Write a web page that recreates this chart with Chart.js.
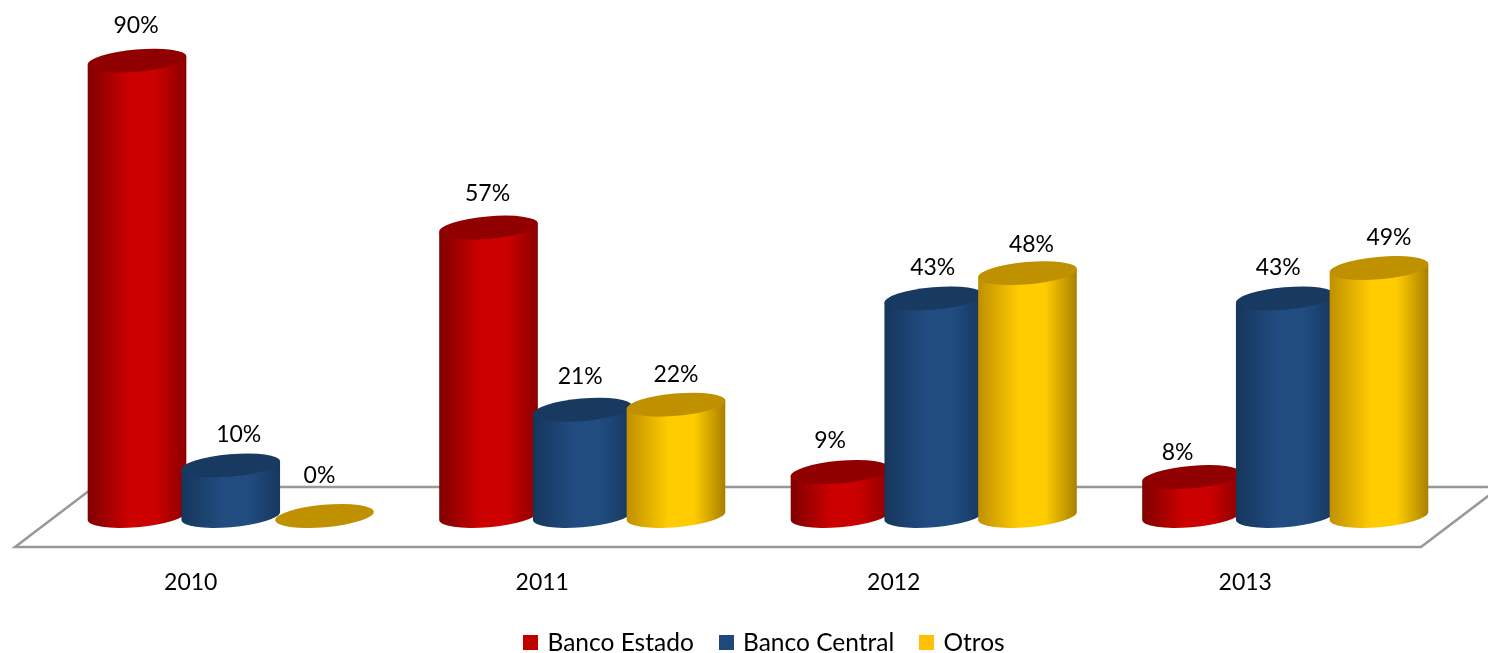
<!DOCTYPE html>
<html>
<head>
<meta charset="utf-8">
<style>html,body{margin:0;padding:0;background:#fff}#wrap{width:1488px;height:653px}</style>
<script src="https://cdn.jsdelivr.net/npm/chart.js@4/dist/chart.umd.js"></script>
</head>
<body>
<div id="wrap"><canvas id="c" width="1488" height="653"></canvas></div>
<script>
const categories = ["2010", "2011", "2012", "2013"];
const seriesNames = ["Banco Estado", "Banco Central", "Otros"];
const bancoEstado = [90, 57, 8.7, 7.7];
const bancoCentral = [10, 21, 43, 43];
const otros = [0, 22, 48, 49];

const FONT = 'Lato, "Open Sans", sans-serif';
const palette = [
  {base:"#C00000", edge:"#800000", mid:"#CC0000", right:"#8C0000", top:"#900000"},
  {base:"#1F497D", edge:"#16365C", mid:"#214C80", right:"#17375E", top:"#183A60"},
  {base:"#FFC000", edge:"#BF9000", mid:"#FFCC00", right:"#A98000", top:"#BF9000"}
];
// hand placement of the value labels in the original: [dx, dy] from the top of each cylinder
const labelNudge = [
  [[-1,-35],[8,-31],[-5,-40]],
  [[-1,-34],[-2,-33],[0,-30]],
  [[-10,-31],[-1,-31],[4,-29]],
  [[-14,-24],[-7,-31],[10,-30]]
];

function swatch(color){
  const s = document.createElement("canvas");
  s.width = 15; s.height = 15;
  const g = s.getContext("2d");
  g.fillStyle = color; g.fillRect(0,0,15,15);
  return s;
}

const TILT = -5 * Math.PI / 180;
function cylinder(ctx, cx, yTop, yBase, a, b, p){
  const t0 = Math.atan(-(b/a) * Math.tan(TILT));
  const ex = a*Math.cos(t0)*Math.cos(TILT) - b*Math.sin(t0)*Math.sin(TILT);
  const ey = a*Math.cos(t0)*Math.sin(TILT) + b*Math.sin(t0)*Math.cos(TILT);
  if (yBase - yTop > 0.5){
    const g = ctx.createLinearGradient(cx-ex,0,cx+ex,0);
    g.addColorStop(0, p.edge);
    g.addColorStop(0.42, p.mid);
    g.addColorStop(0.68, p.mid);
    g.addColorStop(1, p.right);
    ctx.beginPath();
    ctx.moveTo(cx+ex, yTop+ey);
    ctx.lineTo(cx+ex, yBase+ey);
    ctx.ellipse(cx, yBase, a, b, TILT, t0, t0+Math.PI, false);
    ctx.lineTo(cx-ex, yTop-ey);
    ctx.closePath();
    ctx.fillStyle = g;
    ctx.fill();
  }
  ctx.beginPath();
  ctx.ellipse(cx, yTop, a, b, TILT, 0, Math.PI*2);
  ctx.fillStyle = p.top;
  ctx.fill();
}

const floorDepth = {shiftBack: 79, rise: 60, front: 31, left: 40, right: 40};
const cylinderPlugin = {
  id: "cylinders",
  afterLayout(chart){
    chart.legend.left += 7.5; chart.legend.right += 7.5;
    chart.legend.top -= 1; chart.legend.bottom -= 1;
  },
  beforeDatasetsDraw(chart){
    const {ctx, chartArea:ca} = chart;
    const y0 = chart.scales.y.getPixelForValue(0);
    const fx0 = ca.left - floorDepth.left, fx1 = ca.right - floorDepth.right;
    const fy = y0 + floorDepth.front, by = fy - floorDepth.rise;
    ctx.save();
    ctx.strokeStyle = "#989898";
    ctx.lineWidth = 2.5;
    ctx.lineJoin = "miter";
    ctx.beginPath();
    ctx.moveTo(fx0, fy);
    ctx.lineTo(fx1, fy);
    ctx.lineTo(fx1 + floorDepth.shiftBack, by);
    ctx.lineTo(fx0 + floorDepth.shiftBack, by);
    ctx.closePath();
    ctx.stroke();
    ctx.restore();
  },
  beforeDatasetDraw(){ return false; },
  afterDatasetsDraw(chart){
    const {ctx} = chart;
    const metas = chart.data.datasets.map((d,i)=>chart.getDatasetMeta(i));
    metas.forEach((m,i)=>{
      m.data.forEach(bar=>{
        const a = bar.width*0.528;
        cylinder(ctx, bar.x, bar.y, bar.base, a, 11.2, palette[i]);
      });
    });
    ctx.save();
    ctx.font = "23px " + FONT;
    ctx.fillStyle = "#000";
    ctx.textAlign = "center";
    ctx.textBaseline = "middle";
    metas.forEach((m,i)=>{
      m.data.forEach((bar,j)=>{
        const v = chart.data.datasets[i].data[j];
        const n = labelNudge[j][i];
        ctx.fillText(Math.round(v)+"%", bar.x+n[0], bar.y+n[1]);
      });
    });
    ctx.restore();
  }
};

new Chart(document.getElementById("c"), {
  type: "bar",
  data: {
    labels: categories,
    datasets: [
      {label: seriesNames[0], data: bancoEstado, backgroundColor: palette[0].base},
      {label: seriesNames[1], data: bancoCentral, backgroundColor: palette[1].base},
      {label: seriesNames[2], data: otros, backgroundColor: palette[2].base}
    ]
  },
  plugins: [cylinderPlugin],
  options: {
    responsive: false,
    animation: false,
    layout: {padding: {left: 55, right: 27, top: 10, bottom: -13}},
    datasets: {bar: {categoryPercentage: 0.8, barPercentage: 1}},
    scales: {
      x: {
        grid: {display: false},
        border: {display: false},
        ticks: {labelOffset: -40, color: "#000", font: {family: FONT, size: 23}, padding: 45, maxRotation: 0},
        afterFit(s){ s.height = 87.5; }
      },
      y: {display: false, min: 0, max: 100}
    },
    plugins: {
      legend: {
        position: "bottom",
        labels: {
          color: "#000",
          font: {family: FONT, size: 24.5},
          usePointStyle: true,
          pointStyleWidth: 9,
          padding: 28,
          generateLabels(chart){
            return Chart.defaults.plugins.legend.labels.generateLabels(chart).map(it=>({...it, pointStyle: swatch(it.fillStyle)}));
          }
        }
      },
      tooltip: {enabled: false}
    }
  }
});
</script>
</body>
</html>
